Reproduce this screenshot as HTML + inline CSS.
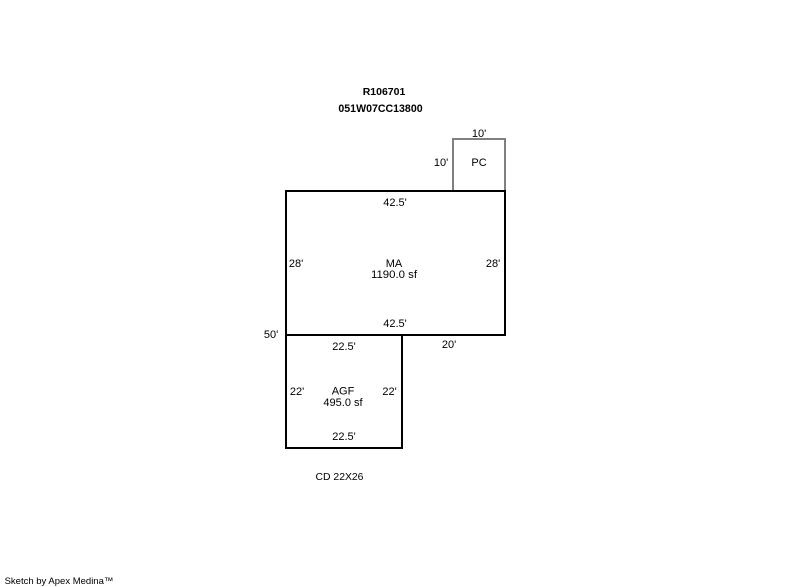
<!DOCTYPE html>
<html>
<head>
<meta charset="utf-8">
<style>
html,body{margin:0;padding:0;background:#fff;}
body{width:800px;height:587px;overflow:hidden;position:relative;}
svg{position:absolute;left:0;top:0;}
text{font-family:"Liberation Sans",Arial,sans-serif;font-size:11px;fill:#000;text-anchor:middle;}
.b{font-weight:bold;font-size:10.5px;}
</style>
</head>
<body>
<svg width="800" height="587" viewBox="0 0 800 587" xmlns="http://www.w3.org/2000/svg">
<rect x="453" y="139" width="52" height="52" fill="none" stroke="#808080" stroke-width="2"/>
<rect x="286" y="191" width="219" height="144" fill="none" stroke="#000" stroke-width="2"/>
<path d="M286 335V448H402V335" fill="none" stroke="#000" stroke-width="2"/>
<text class="b" x="384" y="95">R106701</text>
<text class="b" x="380.5" y="112" style="font-size:10.6px">051W07CC13800</text>
<text x="479" y="137">10'</text>
<text x="441" y="166">10'</text>
<text x="479" y="166">PC</text>
<text x="395" y="206">42.5'</text>
<text x="296" y="267">28'</text>
<text x="394" y="267">MA</text>
<text x="394" y="278" style="font-size:11.4px">1190.0 sf</text>
<text x="493" y="267">28'</text>
<text x="395" y="327">42.5'</text>
<text x="271" y="338">50'</text>
<text x="449" y="348">20'</text>
<text x="344" y="350">22.5'</text>
<text x="297" y="395">22'</text>
<text x="343" y="394.5">AGF</text>
<text x="343" y="406">495.0 sf</text>
<text x="389.5" y="395">22'</text>
<text x="344" y="440">22.5'</text>
<text x="339.5" y="480" style="font-size:10.4px">CD 22X26</text>
<text x="59" y="584" style="font-size:9.5px">Sketch by Apex Medina™</text>
</svg>
</body>
</html>
